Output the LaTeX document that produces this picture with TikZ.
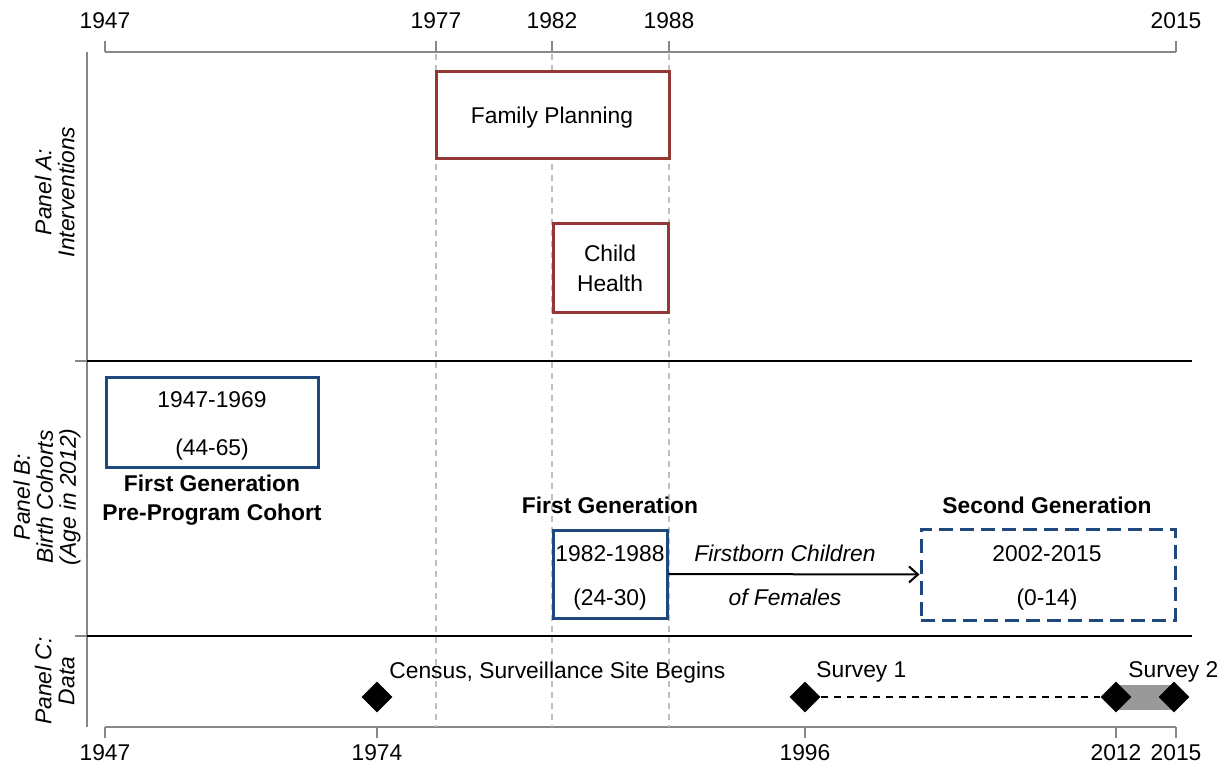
\documentclass[tikz,border=0pt]{standalone}
\usepackage{fontspec}
\setmainfont{Liberation Sans}
\usetikzlibrary{shapes.geometric,arrows.meta}
\definecolor{boxred}{HTML}{953735}
\definecolor{boxblue}{HTML}{1F497D}
\definecolor{axisgray}{HTML}{878787}
\definecolor{guidegray}{HTML}{BFBFBF}
\definecolor{bandgray}{HTML}{999999}
\begin{document}
\begin{tikzpicture}[x=0.5pt,y=-0.5pt,
  axisline/.style={draw=axisgray, line width=1pt},
  guide/.style={draw=guidegray, line width=0.75pt, dash pattern=on 3pt off 2.5pt},
  sepline/.style={draw=black, line width=0.75pt},
  redbox/.style={rectangle, draw=boxred, line width=1.5pt, fill=white, inner sep=0},
  bluebox/.style={rectangle, draw=boxblue, line width=1.5pt, fill=white, inner sep=0},
  dashbox/.style={bluebox, dash pattern=on 7pt off 3.5pt},
  txt/.style={font=\fontsize{11.4}{13.7}\selectfont, inner sep=0, anchor=base},
  btxt/.style={txt, font=\fontsize{11.4}{13.7}\selectfont\bfseries},
  itxt/.style={txt, font=\fontsize{11.4}{13.7}\selectfont\itshape},
  paneltxt/.style={rotate=90, anchor=south, align=center, inner sep=0, font=\fontsize{11.4}{11.5}\selectfont\itshape},
  marker/.style={diamond, fill=black, inner sep=0, minimum width=15.5pt, minimum height=15.5pt},
  flow/.style={draw=black, line width=1pt, -{Straight Barb[length=4.5pt,width=8pt]}}
]
\useasboundingbox (0,0) rectangle (1228,765);

% ---------- axes ----------
\coordinate (tL) at (105,52);  \coordinate (tR) at (1176,52);
\coordinate (bL) at (105,727); \coordinate (bR) at (1176,727);
\coordinate (vT) at (87,52);   \coordinate (vB) at (87,727);
\draw[axisline] (tL) -- (tR);
\draw[axisline] (bL) -- (bR);
\draw[axisline] (vT) -- (vB);

% top ticks and labels
\foreach \xx/\yr in {105/1947,436/1977,552/1982,669/1988,1176/2015}{
  \draw[axisline] (\xx,52) -- (\xx,41);
  \node[txt] (top\yr) at (\xx,28.5) {\yr};
}
% bottom ticks and labels
\foreach \xx/\yr in {105/1947,377/1974,805/1996,1116/2012,1176/2015}{
  \draw[axisline] (\xx,727) -- (\xx,738);
  \node[txt] (bot\yr) at (\xx,760) {\yr};
}

% guide lines
\foreach \xx/\yr in {436/1977,552/1982,669/1988}{
  \coordinate (gT\yr) at (\xx,54);
  \coordinate (gB\yr) at (\xx,727);
  \draw[guide] (gT\yr) -- (gB\yr);
}

% panel separators
\coordinate (sAl) at (75,361);  \coordinate (sAm) at (87,361);  \coordinate (sAr) at (1192,361);
\coordinate (sBl) at (75,636);  \coordinate (sBm) at (87,636);  \coordinate (sBr) at (1192,636);
\draw[axisline] (sAl) -- (sAm);
\draw[sepline] (sAm) -- (sAr);
\draw[axisline] (sBl) -- (sBm);
\draw[sepline] (sBm) -- (sBr);

% panel labels
\node[paneltxt] (panA) at (75,192) {Panel A:\\Interventions};
\node[paneltxt] (panB) at (81,497) {Panel B:\\Birth Cohorts\\(Age in 2012)};
\node[paneltxt] (panC) at (75,681) {Panel C:\\Data};

% ---------- Panel A ----------
\node[redbox, minimum width=116.5pt, minimum height=43.5pt] (fp) at (552.5,115.5) {};
\node[txt] (fpt) at (552,123.3) {Family Planning};
\node[redbox, minimum width=57.5pt, minimum height=44pt] (ch) at (610.5,268) {};
\node[txt] (cht1) at (610,261.7) {Child};
\node[txt] (cht2) at (610,291.7) {Health};

% ---------- Panel B ----------
\node[bluebox, minimum width=106pt, minimum height=45pt] (pre) at (212,422) {};
\node[txt] (pret1) at (212,407.3) {1947-1969};
\node[txt] (pret2) at (212,455) {(44-65)};
\node[btxt] (pret3) at (212,491.3) {First Generation};
\node[btxt] (pret4) at (212,520.7) {Pre-Program Cohort};

\node[btxt] (g1t) at (610,513.3) {First Generation};
\node[bluebox, minimum width=57pt, minimum height=44pt] (g1) at (610,574) {};
\node[txt] (g1t1) at (610,561) {1982-1988};
\node[txt] (g1t2) at (610,605) {(24-30)};

\node[btxt] (g2t) at (1047,513.3) {Second Generation};
\node[dashbox, minimum width=127pt, minimum height=45.5pt] (g2) at (1048,574.5) {};
\node[txt] (g2t1) at (1047,561) {2002-2015};
\node[txt] (g2t2) at (1047,605) {(0-14)};

\draw[flow] (g1.east) -- (g2.west);
\node[itxt] (fc1) at (785,561) {Firstborn Children};
\node[itxt] (fc2) at (785,605) {of Females};

% ---------- Panel C ----------
\coordinate (c1974) at (377,697);
\coordinate (c1996) at (805,697);
\coordinate (c2012) at (1116,697);
\coordinate (c2015) at (1174,697);
\draw[bandgray, line width=12.5pt] (c2012) -- (c2015);
\node[marker] (d1974) at (c1974) {};
\node[marker] (d1996) at (c1996) {};
\node[marker] (d2012) at (c2012) {};
\node[marker] (d2015) at (c2015) {};
\draw[line width=1pt, dash pattern=on 3.5pt off 3pt] (d1996) -- (d2012);
\node[txt, anchor=base west] (census) at (389,678) {Census, Surveillance Site Begins};
\node[txt, anchor=base west] (sv1) at (816,677.5) {Survey 1};
\node[txt, anchor=base west] (sv2) at (1128,677.5) {Survey 2};
\end{tikzpicture}
\end{document}
